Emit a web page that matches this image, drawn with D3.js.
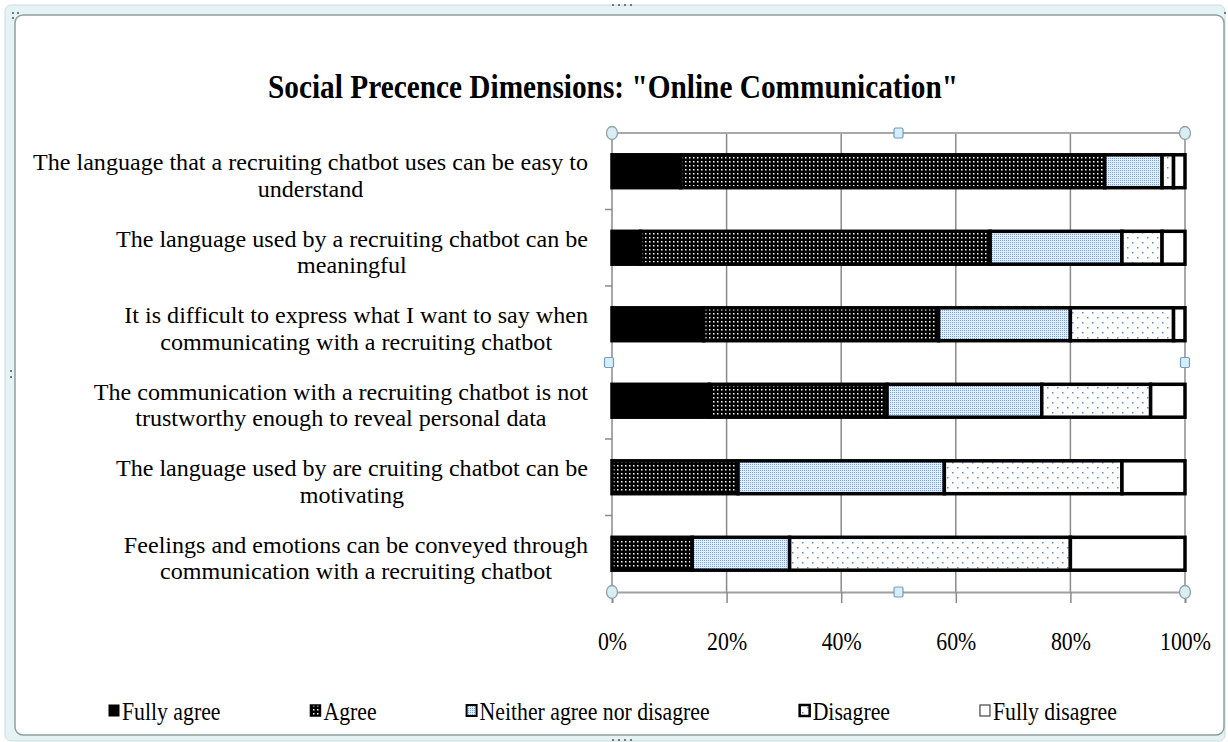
<!DOCTYPE html>
<html>
<head>
<meta charset="utf-8">
<script src="https://cdn.jsdelivr.net/npm/d3@7/dist/d3.min.js"></script>
<style>
  body { margin: 0; background: #fff; }
  text { font-family: "Liberation Serif", "Times New Roman", serif; fill: #000; }
</style>
</head>
<body>
<div id="chart"></div>
<script>
// data (percent of answers)
const categories = [
  ["The language that a recruiting chatbot uses can be easy to", "understand"],
  ["The language used by a recruiting chatbot can be", "meaningful"],
  ["It is difficult to express what I want to say when", "communicating with a recruiting chatbot"],
  ["The communication with a recruiting chatbot is not", "trustworthy enough to reveal personal data"],
  ["The language used by are cruiting chatbot can be", "motivating"],
  ["Feelings and emotions can be conveyed through", "communication with a recruiting chatbot"]
];
const seriesNames = ["Fully agree", "Agree", "Neither agree nor disagree", "Disagree", "Fully disagree"];
const fullyAgree    = [12, 5, 16, 17, 0, 0];
const agree         = [74, 61, 41, 31, 22, 14];
const neither       = [10, 23, 23, 27, 36, 17];
const disagree      = [2, 7, 18, 19, 31, 49];
const fullyDisagree = [2, 4, 2, 6, 11, 20];
const tickValues = [0, 20, 40, 60, 80, 100];
const chartTitle = 'Social Precence Dimensions: "Online Communication"';

let svgWidth = 1228;
let svgHeight = 742;
let plot = { left: 612, right: 1185, top: 133, bottom: 592 };

let svg = d3.select("#chart").append("svg")
  .attr("width", svgWidth)
  .attr("height", svgHeight);

// outer chart frame (selected chart object look)
svg.append("rect")
  .attr("x", 5).attr("y", 5).attr("width", svgWidth - 8).attr("height", svgHeight - 6)
  .attr("rx", 6)
  .attr("fill", "#e6f3f5").attr("stroke", "#c9dde0");
svg.append("rect")
  .attr("x", 15).attr("y", 15).attr("width", 1209).attr("height", 720)
  .attr("rx", 8)
  .attr("fill", "#fff").attr("stroke", "#8e9ea0").attr("stroke-width", 1.5);
[[612, 4], [618, 4], [624, 4], [630, 4], [612, 739], [618, 739], [624, 739], [630, 739], [12, 12], [17, 12], [12, 17], [1224, 12], [10, 370], [10, 376]]
  .forEach(p => svg.append("rect").attr("x", p[0]).attr("y", p[1]).attr("width", 2).attr("height", 2).attr("fill", "#777"));

// Step 1: patterns for the fills
let defs = svg.append("defs");
let pAgree = defs.append("pattern").attr("id", "p-agree").attr("patternUnits", "userSpaceOnUse")
  .attr("width", 4).attr("height", 4);
pAgree.append("rect").attr("width", 4).attr("height", 4).attr("fill", "#000");
pAgree.append("rect").attr("x", 1).attr("y", 1).attr("width", 1.5).attr("height", 1.5).attr("fill", "#fff");

let pNeither = defs.append("pattern").attr("id", "p-neither").attr("patternUnits", "userSpaceOnUse")
  .attr("width", 2).attr("height", 2);
pNeither.append("rect").attr("width", 2).attr("height", 2).attr("fill", "#e6eef9");
pNeither.append("rect").attr("x", 0).attr("y", 0).attr("width", 1).attr("height", 1).attr("fill", "#7ba1de");

let pDisagree = defs.append("pattern").attr("id", "p-disagree").attr("patternUnits", "userSpaceOnUse")
  .attr("width", 10).attr("height", 10);
pDisagree.append("rect").attr("width", 10).attr("height", 10).attr("fill", "#fff");
pDisagree.append("rect").attr("x", 2).attr("y", 2).attr("width", 1.5).attr("height", 1.5).attr("fill", "#5b8bd6");
pDisagree.append("rect").attr("x", 7).attr("y", 7).attr("width", 1.5).attr("height", 1.5).attr("fill", "#5b8bd6");

let fills = ["#000", "url(#p-agree)", "url(#p-neither)", "url(#p-disagree)", "#fff"];

// Step 2: table + stack
let table = categories.map((c, i) => ({
  idx: i,
  "Fully agree": fullyAgree[i],
  "Agree": agree[i],
  "Neither agree nor disagree": neither[i],
  "Disagree": disagree[i],
  "Fully disagree": fullyDisagree[i]
}));
let stacked = d3.stack().keys(seriesNames)(table);

// Step 3: scales
let xScale = d3.scaleLinear().domain([0, 100]).range([plot.left, plot.right]);
let yScale = d3.scaleBand().domain(d3.range(categories.length))
  .range([plot.top, plot.bottom]).paddingInner(0.57).paddingOuter(0.285);
let step = yScale.step();

// gridlines
svg.append("g").selectAll("line").data(tickValues.slice(1)).enter().append("line")
  .attr("x1", d => xScale(d)).attr("x2", d => xScale(d))
  .attr("y1", plot.top).attr("y2", plot.bottom)
  .attr("stroke", "#8a8a8a").attr("stroke-width", 1.5);

// plot area frame (top / right lines)
svg.append("line").attr("x1", plot.left).attr("x2", plot.right).attr("y1", plot.top).attr("y2", plot.top)
  .attr("stroke", "#a9a9a9").attr("stroke-width", 2);
svg.append("line").attr("x1", plot.right).attr("x2", plot.right).attr("y1", plot.top).attr("y2", plot.bottom)
  .attr("stroke", "#a9a9a9").attr("stroke-width", 2);

// squash helper: keeps glyph height, narrows width; returns new widths
function squash(sel, f) {
  let widths = [];
  sel.each(function() {
    let w = this.getComputedTextLength() * f;
    widths.push(w);
    d3.select(this).attr("textLength", w).attr("lengthAdjust", "spacingAndGlyphs");
  });
  return widths;
}

// Step 4: axes
let bottomAxis = d3.axisBottom(xScale).tickValues(tickValues).tickSize(11).tickFormat(d => d + "%").tickPadding(29);
let xAxisG = svg.append("g").attr("transform", `translate(0, ${plot.bottom})`).call(bottomAxis);
xAxisG.select(".domain").attr("stroke", "#a0a0a0").attr("stroke-width", 2);
xAxisG.selectAll(".tick line").attr("stroke", "#8a8a8a").attr("stroke-width", 1.5);
xAxisG.selectAll(".tick text").attr("font-size", 26).attr("font-family", "Liberation Serif").attr("fill", "#000");
squash(xAxisG.selectAll(".tick text"), 0.84);

svg.append("line").attr("x1", plot.left).attr("x2", plot.left).attr("y1", plot.top).attr("y2", plot.bottom)
  .attr("stroke", "#8a8a8a").attr("stroke-width", 1.5);
svg.append("g").selectAll("line").data(d3.range(1, categories.length)).enter().append("line")
  .attr("x1", plot.left - 7).attr("x2", plot.left)
  .attr("y1", d => plot.top + d * step).attr("y2", d => plot.top + d * step)
  .attr("stroke", "#8a8a8a").attr("stroke-width", 1.5);

// Step 5: bars
let barH = yScale.bandwidth();
svg.append("g").selectAll("g").data(stacked).enter().append("g")
  .attr("fill", (d, i) => fills[i])
  .selectAll("rect").data(d => d).enter().append("rect")
  .attr("x", d => xScale(d[0]))
  .attr("width", d => xScale(d[1]) - xScale(d[0]))
  .attr("y", d => yScale(d.data.idx))
  .attr("height", barH)
  .attr("stroke", "#000").attr("stroke-width", 3.5);

// selection handles of the plot area
let handleCircles = [[plot.left, plot.top], [plot.right, plot.top], [plot.left, plot.bottom], [plot.right, plot.bottom]];
svg.append("g").selectAll("ellipse").data(handleCircles).enter().append("ellipse")
  .attr("cx", d => d[0]).attr("cy", d => d[1]).attr("rx", 5.5).attr("ry", 6.5)
  .attr("fill", "#d9eef2").attr("stroke", "#8fa3a8").attr("stroke-width", 1.3);
let midX = (plot.left + plot.right) / 2, midY = (plot.top + plot.bottom) / 2;
let handleSquares = [[midX, plot.top], [midX, plot.bottom], [plot.left - 3, midY], [plot.right, midY]];
svg.append("g").selectAll("rect").data(handleSquares).enter().append("rect")
  .attr("x", d => d[0] - 4.5).attr("y", d => d[1] - 5).attr("width", 9).attr("height", 10).attr("rx", 1.5)
  .attr("fill", "#d8edf7").attr("stroke", "#6f9ec2").attr("stroke-width", 1.2);

// Step 6: category labels (centered lines, block right aligned)
let labelRight = 588;
let labelSize = 23.5;
// squeeze factor taken from the widest line (it spans x 33..588 in the source)
let probe = svg.append("text").attr("font-size", labelSize).text(categories[0][0]);
let labelSqueeze = 555 / probe.node().getComputedTextLength();
probe.remove();
categories.forEach(function(lines, i) {
  let cy = yScale(i) + barH / 2;
  let texts = svg.append("g").selectAll("text").data(lines).enter().append("text")
    .attr("y", (d, k) => cy - 1 + k * 26.5)
    .attr("font-size", labelSize)
    .attr("text-anchor", "middle")
    .text(d => d);
  let widest = d3.max(squash(texts, labelSqueeze));
  texts.attr("x", labelRight - widest / 2);
});

// Step 7: title
let title = svg.append("text")
  .attr("x", 613).attr("y", 98)
  .attr("text-anchor", "middle")
  .attr("font-size", 34).attr("font-weight", "bold")
  .text(chartTitle);
title.attr("textLength", 690).attr("lengthAdjust", "spacingAndGlyphs");

// Step 8: legend
let legendKeys = [
  { fill: "#000", stroke: "#000", sw: 1 },
  { fill: "url(#p-agree)", stroke: "#000", sw: 1.5 },
  { fill: "url(#p-neither)", stroke: "#000", sw: 2 },
  { fill: "url(#p-disagree)", stroke: "#000", sw: 2.5 },
  { fill: "#fff", stroke: "#444", sw: 1.2 }
];
let lx = 108;
seriesNames.forEach(function(name, i) {
  let k = legendKeys[i];
  svg.append("rect").attr("x", lx + 1).attr("y", 705).attr("width", 10).attr("height", 11)
    .attr("fill", k.fill).attr("stroke", k.stroke).attr("stroke-width", k.sw);
  let t = svg.append("text").attr("x", lx + 14).attr("y", 720)
    .attr("font-size", 25).text(name);
  let w = squash(t, 0.87)[0];
  lx = lx + 14 + w + 89;
});
</script>
</body>
</html>
